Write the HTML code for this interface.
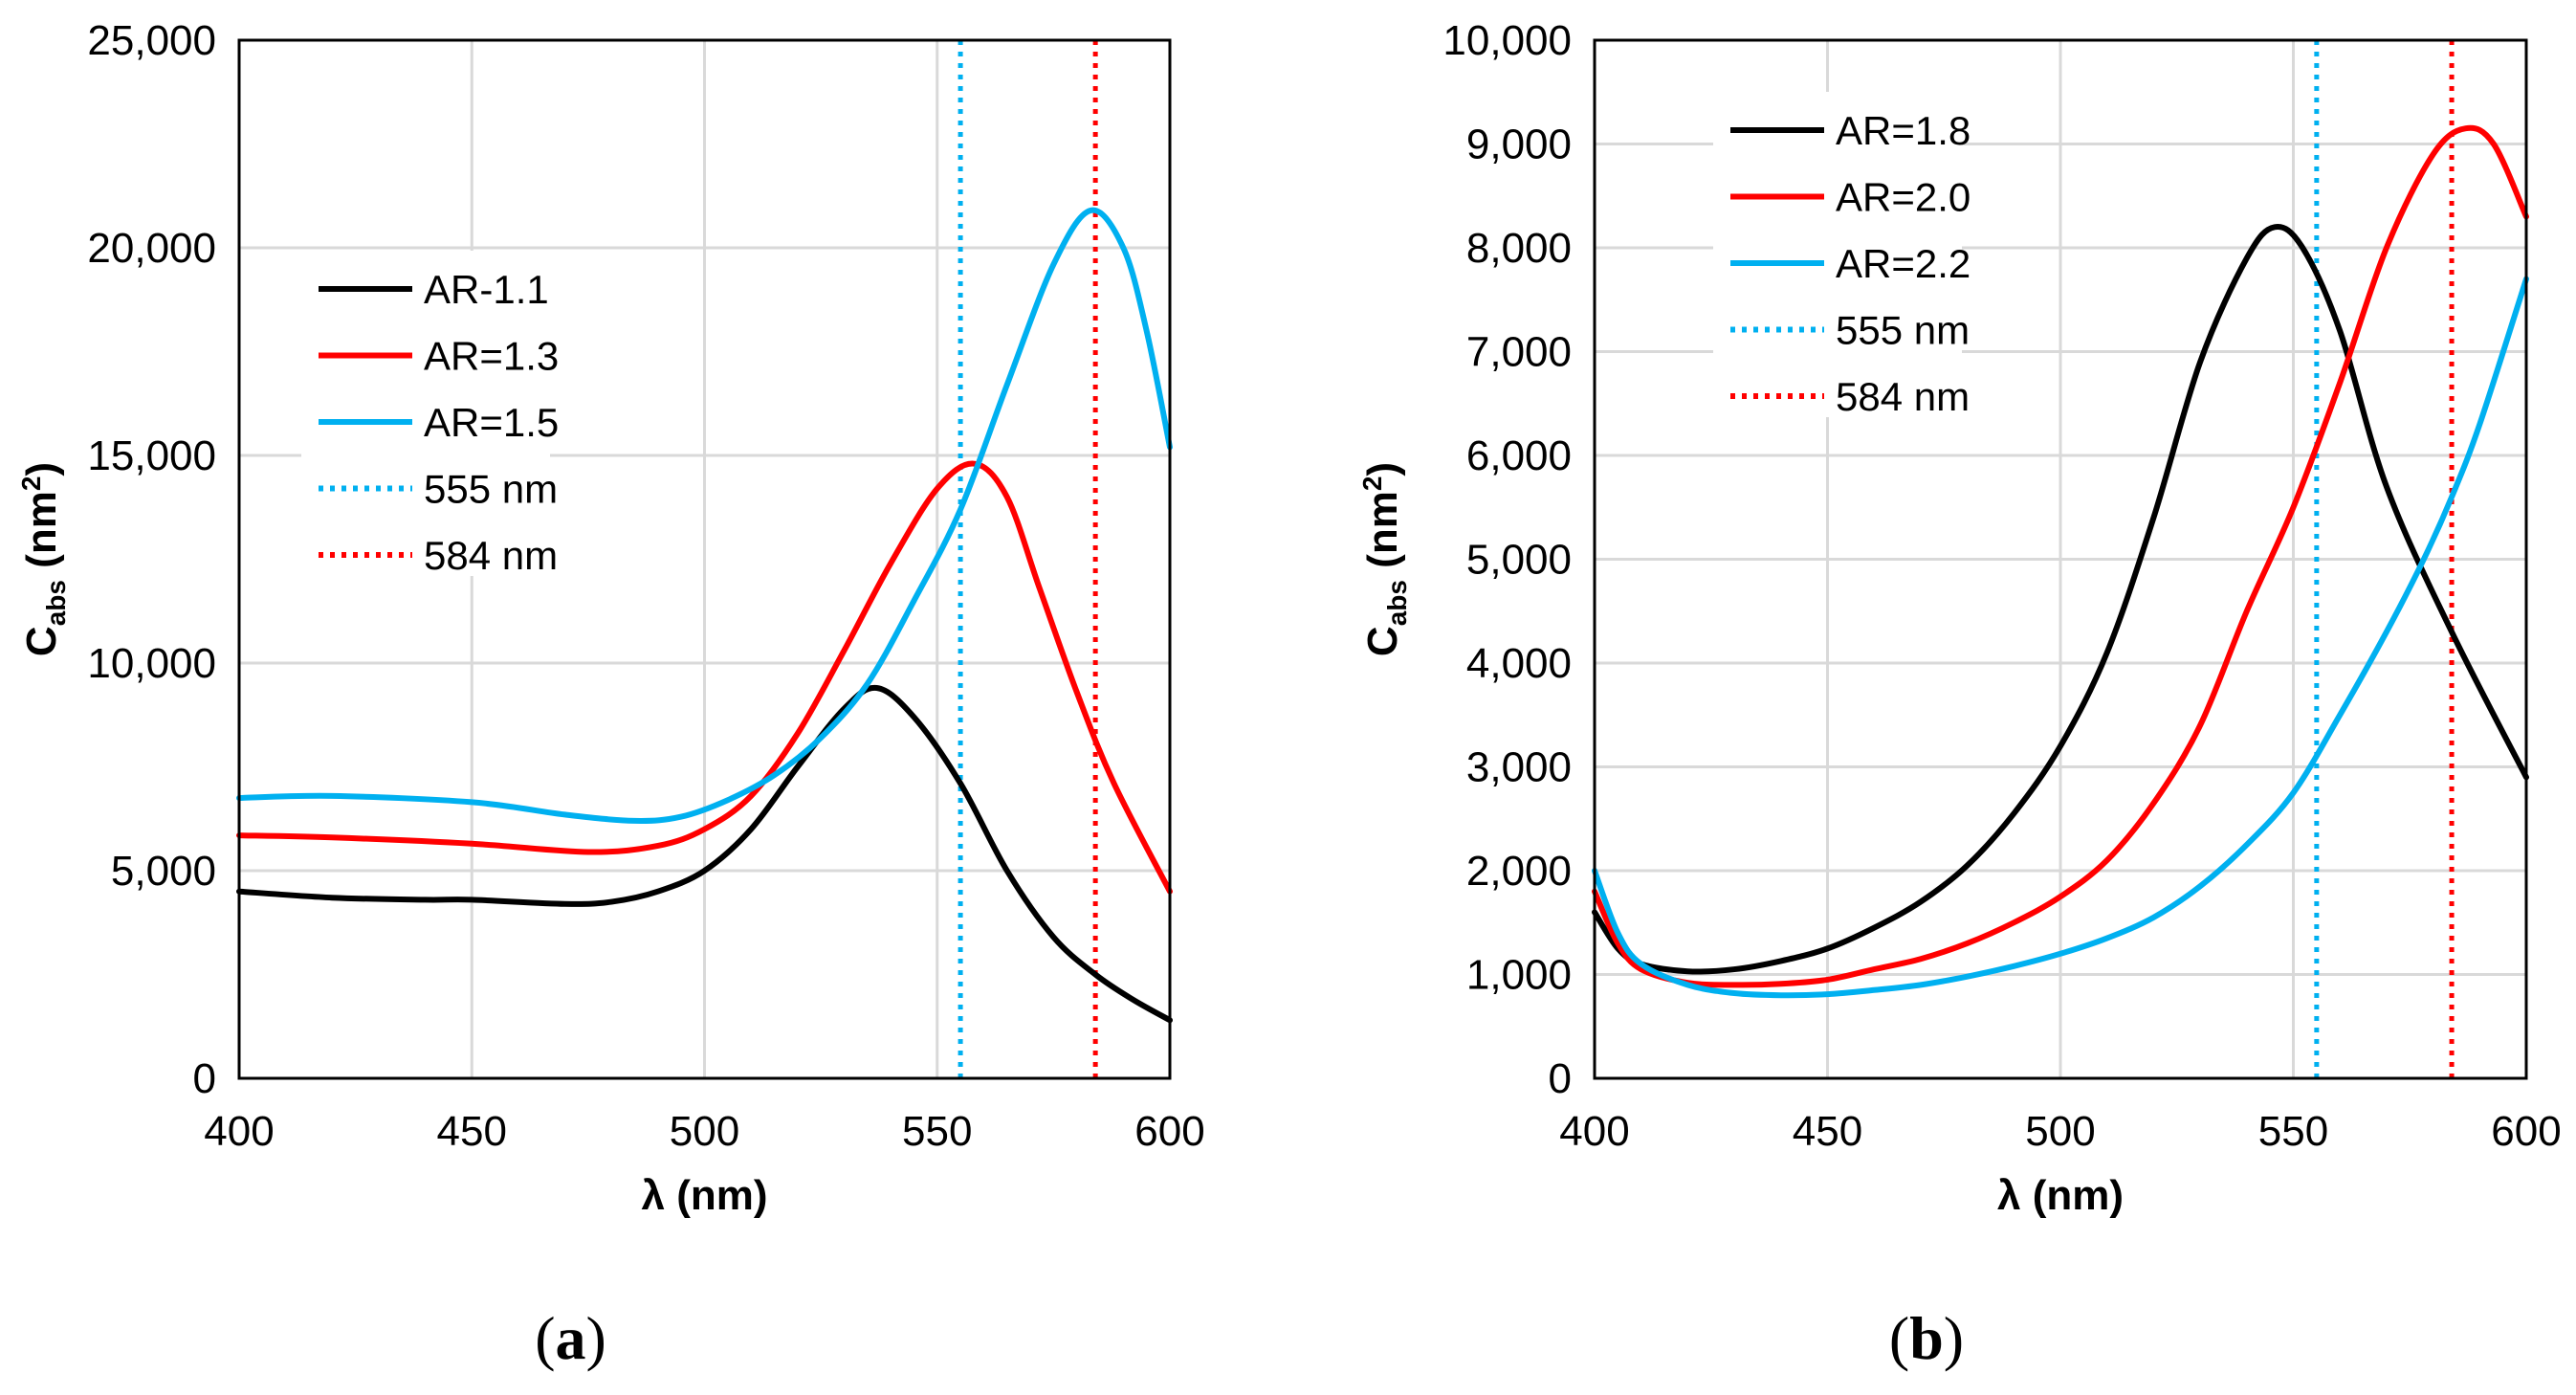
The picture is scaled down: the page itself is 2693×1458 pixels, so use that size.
<!DOCTYPE html>
<html><head><meta charset="utf-8"><style>
html,body{margin:0;padding:0;background:#fff;}
svg{display:block;}
</style></head><body>
<svg id="fig" width="2693" height="1458" viewBox="0 0 2693 1458" xmlns="http://www.w3.org/2000/svg" font-family="Liberation Sans, Arial, sans-serif"></svg>
<script>
// ---- data ----
const xTicks=[400,450,500,550,600];
const yTicksA=[0,5000,10000,15000,20000,25000];
const yTicksB=[0,1000,2000,3000,4000,5000,6000,7000,8000,9000,10000];
const refLines=[555,584];
const a11x=[400,420,440,450,470,480,490,500,510,520,530,537,545,555,565,575,584,592,600];
const a11y=[4500,4350,4300,4300,4200,4250,4500,5000,6000,7500,8900,9400,8700,7100,5000,3400,2500,1900,1400];
const a13x=[400,420,450,475,490,500,510,520,530,540,550,558,565,572,580,588,600];
const a13y=[5850,5800,5650,5450,5600,6000,6800,8300,10300,12400,14200,14800,14000,11800,9300,7100,4500];
const a15x=[400,420,450,470,485,495,505,515,525,535,545,555,565,575,583,590,595,600];
const a15y=[6750,6800,6650,6350,6200,6300,6700,7300,8200,9500,11500,13700,16700,19600,20900,20000,18000,15200];
const b18x=[400,405,410,420,430,440,450,460,470,480,490,500,510,520,530,540,546,552,560,570,584,600];
const b18y=[1600,1250,1100,1030,1050,1130,1250,1450,1700,2050,2550,3200,4100,5400,6900,7900,8200,8000,7200,5700,4300,2900];
const b20x=[400,405,410,420,430,440,450,460,470,480,490,500,510,520,530,540,550,560,570,580,587,593,600];
const b20y=[1800,1300,1050,920,900,910,950,1050,1150,1300,1500,1750,2100,2650,3400,4500,5500,6700,8000,8900,9150,9000,8300];
const b22x=[400,405,410,420,430,440,450,460,470,480,490,500,510,520,530,540,550,560,570,578,584,590,600];
const b22y=[2000,1400,1100,900,820,800,810,850,900,980,1080,1200,1350,1550,1850,2250,2750,3500,4300,5000,5600,6300,7700];

const NS='http://www.w3.org/2000/svg';
const svg=document.getElementById('fig');
function mk(tag,attrs,parent){const e=document.createElementNS(NS,tag);for(const k in attrs)e.setAttribute(k,attrs[k]);(parent||svg).appendChild(e);return e;}
function smooth(pts){let d='M'+pts[0][0]+','+pts[0][1];for(let i=0;i<pts.length-1;i++){const p0=pts[i-1]||pts[i],p1=pts[i],p2=pts[i+1],p3=pts[i+2]||p2;
const c1=[p1[0]+(p2[0]-p0[0])/6,p1[1]+(p2[1]-p0[1])/6],c2=[p2[0]-(p3[0]-p1[0])/6,p2[1]-(p3[1]-p1[1])/6];
d+=' C'+c1[0]+','+c1[1]+' '+c2[0]+','+c2[1]+' '+p2[0]+','+p2[1];}return d;}
function fmt(v){return v.toLocaleString('en-US');}

function chart(cfg){
  const g=mk('g',{});
  
  
  const L=cfg.L,R=cfg.R,T=42,B=1127;
  const sx=v=>L+(v-400)/200*(R-L);
  const sy=v=>B-v/cfg.ymax*(B-T);
  xTicks.forEach(t=>{const l=mk('line',{x1:sx(t),x2:sx(t),y1:T,y2:B,stroke:'#d9d9d9','stroke-width':3},g);
    
    const tx=mk('text',{x:sx(t),y:1197,'font-size':44,'text-anchor':'middle',fill:'#000'},g);tx.textContent=t;
    });
  cfg.yt.forEach(t=>{const l=mk('line',{x1:L,x2:R,y1:sy(t),y2:sy(t),stroke:'#d9d9d9','stroke-width':3},g);
    
    const tx=mk('text',{x:L-24,y:sy(t)+15,'font-size':44,'text-anchor':'end',fill:'#000'},g);tx.textContent=fmt(t);
    });
  const lg=mk('g',{},g);
  
  
  mk('rect',{x:cfg.lx-18,y:cfg.ly-40,width:260,height:340,fill:'#fff'},lg);
  const rc=['#00b0f0','#ff0000'];
  refLines.forEach((r,i)=>{const l=mk('line',{x1:sx(r),x2:sx(r),y1:T,y2:B,stroke:rc[i],'stroke-width':5,'stroke-dasharray':'5 7'},g);
    });
  const cols=['#000','#ff0000','#00b0f0'];
  cfg.series.forEach((s,i)=>{const pts=s[0].map((x,j)=>[sx(x),sy(s[1][j])]);
    const p=mk('path',{d:smooth(pts),fill:'none',stroke:cols[i],'stroke-width':6,'stroke-linecap':'round'},g);
    
    });
  mk('rect',{x:L,y:T,width:R-L,height:B-T,fill:'none',stroke:'#000','stroke-width':3},g);
  const lcol=['#000','#ff0000','#00b0f0','#00b0f0','#ff0000'];
  const names=cfg.labels.concat(['555 nm','584 nm']);
  names.forEach((n,i)=>{const y=cfg.ly+i*69.5;
    const e=mk('g',{},lg);
    
    
    mk('line',{x1:cfg.lx,x2:cfg.lx+98,y1:y,y2:y,stroke:lcol[i],'stroke-width':6,'stroke-dasharray':i>2?'5 7':'none'},e);
    const t=mk('text',{x:cfg.lx+110,y:y+15,'font-size':42,fill:'#000'},e);t.textContent=n;});
  const xt=mk('text',{x:(L+R)/2,y:1264,'font-size':44,'font-weight':'bold','text-anchor':'middle'},g);
  xt.textContent='λ (nm)';
  
  const yt=mk('text',{transform:`translate(${cfg.ytx},${(T+B)/2}) rotate(-90)`,'font-size':44,'font-weight':'bold','text-anchor':'middle'},g);
  yt.innerHTML='C<tspan font-size="28" dy="10">abs</tspan><tspan dy="-10"> (nm</tspan><tspan font-size="28" dy="-16">2</tspan><tspan dy="16">)</tspan>';
  
  const cap=mk('text',{x:(L+R)/2-140,y:1420,'font-size':64,'font-family':'Liberation Serif, serif','text-anchor':'middle'},g);
  cap.innerHTML='(<tspan font-weight="bold">'+cfg.cap+'</tspan>)';
  
}
chart({name:'chart-a',L:250,R:1223,ymax:25000,yt:yTicksA,lx:333,ly:302,ytx:58,cap:'a',
  labels:['AR-1.1','AR=1.3','AR=1.5'],series:[[a11x,a11y],[a13x,a13y],[a15x,a15y]]});
chart({name:'chart-b',L:1667,R:2641,ymax:10000,yt:yTicksB,lx:1809,ly:136,ytx:1460,cap:'b',
  labels:['AR=1.8','AR=2.0','AR=2.2'],series:[[b18x,b18y],[b20x,b20y],[b22x,b22y]]});
</script>
</body></html>
